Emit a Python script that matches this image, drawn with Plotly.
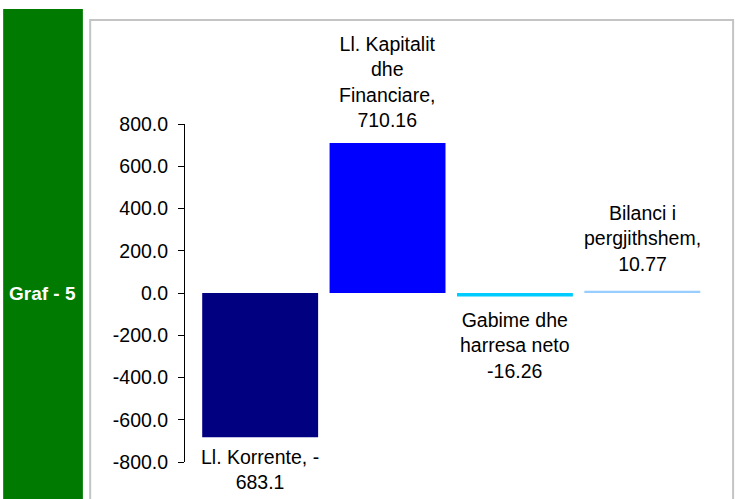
import plotly.graph_objects as go

categories = ["Ll. Korrente", "Ll. Kapitalit dhe Financiare", "Gabime dhe harresa neto", "Bilanci i pergjithshem"]
values = [-683.1, 710.16, -16.26, 10.77]
label_texts = ["Ll. Korrente, -<br>683.1",
               "Ll. Kapitalit<br>dhe<br>Financiare,<br>710.16",
               "Gabime dhe<br>harresa neto<br>-16.26",
               "Bilanci i<br>pergjithshem,<br>10.77"]
bar_colors = ["#000080", "#0000FF", "#00CCFF", "#99CCFF"]
tick_vals = [-800, -600, -400, -200, 0, 200, 400, 600, 800]
tick_text = [f"{v:.1f}" for v in tick_vals]
side_label = "Graf - 5"

# styling: pixel offsets of the data labels
label_shifts = [-7, 10, -11, 14]

FONT = "Liberation Sans, Arial, sans-serif"
xs = list(range(len(categories)))

fig = go.Figure()
fig.add_trace(go.Bar(x=xs, y=values, marker=dict(color=bar_colors, line=dict(width=0)),
                     width=0.91, hoverinfo="skip"))

annotations = []
for i, (v, t, s) in enumerate(zip(values, label_texts, label_shifts)):
    annotations.append(dict(x=i, y=v, xref="x", yref="y", text=t, showarrow=False,
                            yanchor="bottom" if v >= 0 else "top",
                            yshift=s,
                            font=dict(family=FONT, size=19.5, color="black"),
                            align="center"))
annotations.append(dict(x=-0.2726, y=0.5, xref="paper", yref="paper", text="<b>" + side_label + "</b>",
                        showarrow=False, font=dict(family=FONT, size=19, color="white"),
                        xanchor="center", yanchor="middle"))

fig.update_layout(
    width=735, height=499,
    margin=dict(l=185, r=29, t=124, b=37),
    paper_bgcolor="white", plot_bgcolor="rgba(0,0,0,0)",
    showlegend=False,
    xaxis=dict(range=[-0.59, 3.5], visible=False, fixedrange=True),
    yaxis=dict(range=[-800, 800], tickvals=tick_vals, ticktext=tick_text,
               showline=True, linecolor="black", linewidth=1,
               ticks="outside", ticklen=6, tickcolor="black",
               showgrid=False, zeroline=False,
               tickfont=dict(family=FONT, size=19.5, color="black"),
               ticklabelstandoff=6),
    annotations=annotations,
    shapes=[
        dict(type="rect", xref="paper", yref="paper", x0=-0.182, x1=1.052, y0=-0.15, y1=1.308,
             line=dict(color="#c4c4c4", width=2), fillcolor="rgba(0,0,0,0)", layer="below"),
        dict(type="rect", xref="paper", yref="paper", x0=-0.349, x1=-0.196, y0=-0.15, y1=1.34,
             line=dict(width=0), fillcolor="#007A00", layer="below"),
    ],
)

fig.write_html("out.html", config={"displayModeBar": False},
               post_script="document.body.style.margin='0';document.body.style.overflow='hidden';")
